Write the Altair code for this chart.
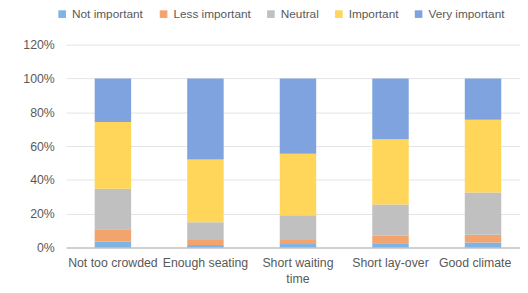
import altair as alt
import pandas as pd

categories = ["Not too crowded", "Enough seating", "Short waiting time", "Short lay-over", "Good climate"]
levels = ["Not important", "Less important", "Neutral", "Important", "Very important"]
colors = ["#7fb3e3", "#f3a46e", "#c0c0c0", "#ffd659", "#7ea3df"]

not_important = [3.5, 1.5, 2.0, 2.5, 3.0]
less_important = [7.3, 3.0, 2.5, 4.5, 4.5]
neutral = [24.0, 10.5, 14.5, 18.5, 25.0]
important = [39.5, 37.0, 36.5, 38.5, 43.0]
very_important = [25.7, 48.0, 44.5, 36.0, 24.5]

series = [not_important, less_important, neutral, important, very_important]
rows = []
for li, (lvl, vals) in enumerate(zip(levels, series)):
    for cat, v in zip(categories, vals):
        rows.append({"category": cat, "level": lvl, "order": li, "value": v / 100.0})
df = pd.DataFrame(rows)

font = "Liberation Sans"
gray_text = "#595959"

chart = alt.Chart(df).mark_bar().encode(
    x=alt.X("category:N", sort=categories, title=None,
            scale=alt.Scale(range=[0, 471], paddingInner=0.606, paddingOuter=0.309),
            axis=alt.Axis(labelAngle=0, labelFont=font, labelFontSize=12.5, labelColor=gray_text,
                          labelPadding=9, ticks=False, domainColor="#d0d0d0", domainWidth=2,
                          labelOffset={"condition": {"test": "datum.value === 'Good climate'", "value": -8},
                                       "value": 0},
                          labelExpr="datum.label == 'Short waiting time' ? ['Short waiting', 'time'] : datum.label",
                          labelLineHeight=17)),
    y=alt.Y("value:Q", stack="zero", title=None,
            scale=alt.Scale(domain=[0, 1.2], nice=False),
            axis=alt.Axis(format=".0%", values=[0, 0.2, 0.4, 0.6, 0.8, 1.0, 1.2], labelFont=font,
                          labelFontSize=12.5, labelColor=gray_text, labelPadding=12, ticks=False,
                          domain=False, gridColor="#e4e4e4", gridWidth=1)),
    color=alt.Color("level:N", scale=alt.Scale(domain=levels, range=colors), title=None,
                    legend=alt.Legend(orient="none", direction="horizontal", legendX=-10, legendY=-37,
                                      symbolType="square", symbolSize=60, symbolStrokeWidth=0,
                                      labelFont=font, labelFontSize=12, labelColor=gray_text,
                                      columnPadding=14, labelOffset=4)),
    order=alt.Order("order:Q", sort="ascending"),
).properties(
    width=453, height=206,
    padding={"left": 59, "top": 35, "right": 8, "bottom": 44},
    autosize=alt.AutoSizeParams(type="none"),
).configure_view(stroke=None)

chart.save("out.html", embed_options={"renderer": "svg", "actions": False})
